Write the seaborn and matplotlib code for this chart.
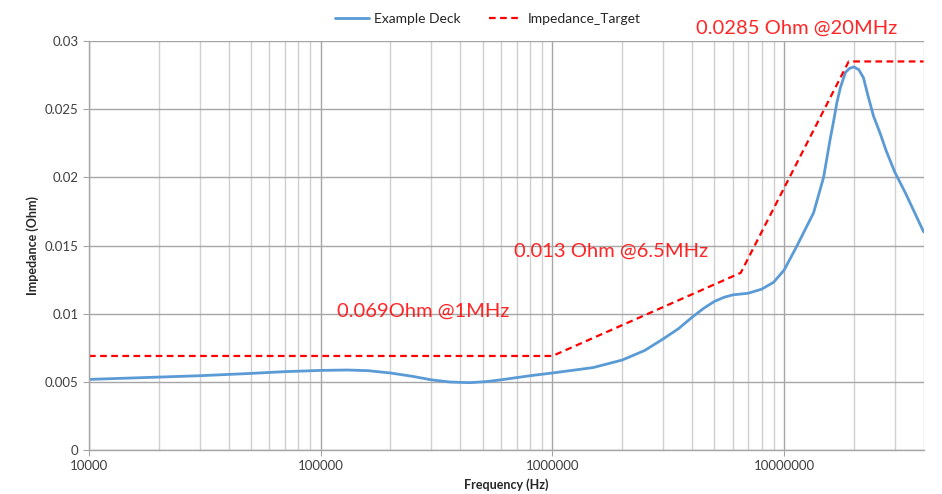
import matplotlib
matplotlib.use('Agg')
import matplotlib.pyplot as plt
import matplotlib.ticker as mticker
import seaborn as sns
import numpy as np

# measured curve (Hz, Ohm)
deck_freq = [1e4, 2e4, 3e4, 5e4, 7e4, 1e5, 1.3e5, 1.6e5, 2e5, 2.5e5, 3e5, 3.6e5,
             4.4e5, 5.2e5, 6e5, 8e5, 1e6, 1.5e6, 2e6, 2.5e6, 3e6, 3.5e6, 4e6,
             4.5e6, 5e6, 5.5e6, 6e6, 7e6, 8e6, 9e6, 1e7, 1.13e7, 1.34e7, 1.48e7,
             1.58e7, 1.63e7, 1.69e7, 1.75e7, 1.84e7, 1.92e7, 2e7, 2.1e7, 2.2e7,
             2.3e7, 2.43e7, 2.6e7, 2.75e7, 3e7, 3.35e7, 4e7]
deck_z = [0.00518, 0.00535, 0.00545, 0.00562, 0.00575, 0.00584, 0.00587, 0.00582,
          0.00565, 0.0054, 0.00515, 0.00499, 0.00494, 0.00502, 0.00515, 0.00545,
          0.00565, 0.00605, 0.0066, 0.0073, 0.00814, 0.0089, 0.00973, 0.0104,
          0.0109, 0.0112, 0.01138, 0.0115, 0.0118, 0.0123, 0.0132, 0.0149,
          0.0174, 0.0200, 0.0228, 0.0240, 0.0255, 0.0266, 0.0277, 0.0280,
          0.0281, 0.0279, 0.0273, 0.0260, 0.0245, 0.0232, 0.0220, 0.0204,
          0.0188, 0.0160]

# target mask
target_freq = [1e4, 1e6, 6.5e6, 1.9e7, 4e7]
target_z = [0.0069, 0.0069, 0.013, 0.0285, 0.0285]

notes = ['0.069Ohm @1MHz', '0.013 Ohm @6.5MHz', '0.0285 Ohm @20MHz']
note_x = [1.18e5, 6.8e5, 4.17e6]
note_y = [0.01015, 0.01456, 0.0309]

x_ticks = [1e4, 1e5, 1e6, 1e7]
x_ticklabels = ['10000', '100000', '1000000', '10000000']
y_ticks = [0, 0.005, 0.01, 0.015, 0.02, 0.025, 0.03]
y_ticklabels = ['0', '0.005', '0.01', '0.015', '0.02', '0.025', '0.03']

sns.set_style('white')
plt.rcParams['font.family'] = ['Lato', 'DejaVu Sans']

fig = plt.figure(figsize=(9.42, 4.94), dpi=100)
ax = fig.add_axes([0.0945, 0.089, 0.886, 0.828])

blue = '#5b9bd5'
red = '#ff0000'

sns.lineplot(x=deck_freq, y=deck_z, ax=ax, color=blue, linewidth=2,
             label='Example Deck', sort=False)
sns.lineplot(x=target_freq, y=target_z, ax=ax, color=red, linewidth=1.6,
             linestyle=(0, (3, 2)), label='Impedance_Target', sort=False)

ax.set_xscale('log')
ax.set_xlim(1e4, 4e7)
ax.set_ylim(0, 0.03)

ax.xaxis.set_major_locator(mticker.FixedLocator(x_ticks))
ax.xaxis.set_major_formatter(mticker.FixedFormatter(x_ticklabels))
ax.xaxis.set_minor_locator(mticker.LogLocator(base=10, subs=np.arange(2, 10)))
ax.xaxis.set_minor_formatter(mticker.NullFormatter())
ax.yaxis.set_major_locator(mticker.FixedLocator(y_ticks))
ax.yaxis.set_major_formatter(mticker.FixedFormatter(y_ticklabels))

ax.grid(which='major', axis='both', color='#a6a6a6', linewidth=1)
ax.grid(which='minor', axis='x', color='#d0d0d0', linewidth=1)
ax.set_axisbelow(True)

for s in ['top', 'right']:
    ax.spines[s].set_visible(False)
for s in ['left', 'bottom']:
    ax.spines[s].set_color('#a6a6a6')
    ax.spines[s].set_linewidth(1)

ax.tick_params(axis='both', which='major', direction='out', length=4,
               color='#a6a6a6', labelsize=9.5, labelcolor='#404040', left=True, bottom=True)
ax.tick_params(axis='x', which='minor', length=0)

ax.set_xlabel('Frequency (Hz)', fontsize=9, fontweight='bold', color='#262626')
ax.set_ylabel('Impedance (Ohm)', fontsize=9, fontweight='bold', color='#262626')

for t, x, y in zip(notes, note_x, note_y):
    ax.text(x, y, t, color=red, fontsize=14.5, va='center', ha='left',
            clip_on=False, alpha=0.85)

ax.legend(loc='upper center', bbox_to_anchor=(0.478, 1.1), ncol=2, frameon=False,
          fontsize=10, handlelength=2.4, handletextpad=0.4, columnspacing=2.0)

fig.savefig('out.png', dpi=100)
